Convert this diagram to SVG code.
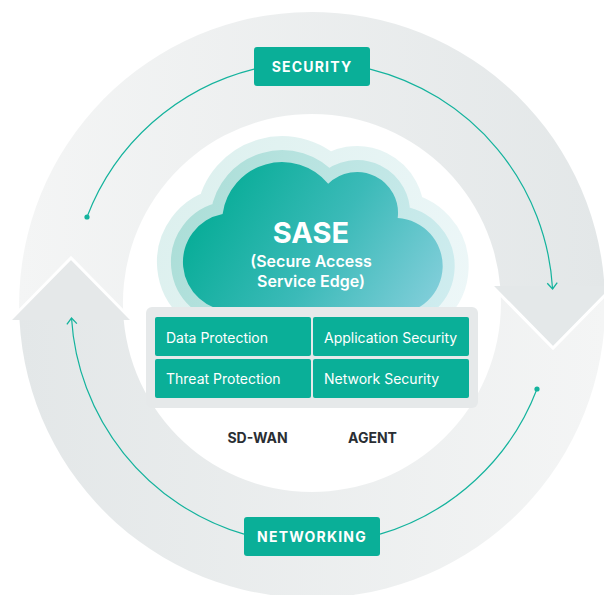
<svg xmlns="http://www.w3.org/2000/svg" width="604" height="595" viewBox="0 0 604 595">
<style>
.lbl{font-family:Inter,"Noto Sans","Liberation Sans",sans-serif;fill:#fff}
.tag{font-size:14px;font-weight:700;letter-spacing:1.2px;text-anchor:middle}
.cell{font-size:14px;font-weight:400}
.dark{font-family:Inter,"Noto Sans","Liberation Sans",sans-serif;font-size:14px;font-weight:700;fill:#2a2e33;text-anchor:middle}
.teal{fill:#0aaf98}
.conn{fill:none;stroke:#14b39d;stroke-width:1.2}
.head{fill:none;stroke:#fff;stroke-width:3;stroke-linejoin:miter}
</style>
<defs>
<linearGradient id="gTop" gradientUnits="userSpaceOnUse" x1="18" y1="0" x2="605" y2="0">
<stop offset="0" stop-color="#f4f5f5"/><stop offset="1" stop-color="#e3e7e8"/>
</linearGradient>
<linearGradient id="gBot" gradientUnits="userSpaceOnUse" x1="605" y1="0" x2="18" y2="0">
<stop offset="0" stop-color="#f4f5f5"/><stop offset="1" stop-color="#e3e7e8"/>
</linearGradient>
<linearGradient id="gCloud" gradientUnits="userSpaceOnUse" x1="215" y1="175" x2="440" y2="315">
<stop offset="0" stop-color="#05ac96"/><stop offset="0.5" stop-color="#3bbab8"/><stop offset="1" stop-color="#88d0dd"/>
</linearGradient>
<linearGradient id="gMid" gradientUnits="userSpaceOnUse" x1="170" y1="180" x2="460" y2="300">
<stop offset="0" stop-color="#a9ddd6"/><stop offset="1" stop-color="#d0edf0"/>
</linearGradient>
<linearGradient id="gOut" gradientUnits="userSpaceOnUse" x1="160" y1="180" x2="470" y2="300">
<stop offset="0" stop-color="#dcf0ee"/><stop offset="1" stop-color="#edf7f8"/>
</linearGradient>
<path id="cloud" d="M232 311 A49 49 0 0 1 222.6 213.9 A60 60 0 0 1 328.2 183.8 A41 41 0 0 1 397.7 218.1 A48 48 0 0 1 394 314 Z"/>
<marker id="chev" markerUnits="userSpaceOnUse" viewBox="0 0 10 12" refX="7" refY="6" markerWidth="10" markerHeight="12" orient="auto">
<path d="M1 1 L7 6 L1 11" fill="none" stroke="#14b39d" stroke-width="1.3"/>
</marker>
</defs>

<g id="cycle">
<path id="arrow-top" d="M19.5 320 A293 293 0 0 1 604.5 286 L500.2 286 A189 189 0 0 0 123.7 320 Z" fill="url(#gTop)"/>
<path id="arrow-bottom" d="M604.5 286 A293 293 0 1 1 19.5 320 L123.7 320 A189 189 0 1 0 500.2 286 Z" fill="url(#gBot)"/>
<polygon points="492,286 614,286 553,348" fill="#e4e8e9"/>
<polyline class="head" points="492,286 553,348 614,286"/>
<polygon points="10,320 132,320 71,258" fill="#e5e8e9"/>
<polyline class="head" points="10,320 71,258 132,320"/>
</g>

<g id="sase-cloud">
<use href="#cloud" fill="url(#gOut)" stroke="url(#gOut)" stroke-width="52" stroke-linejoin="round"/>
<use href="#cloud" fill="url(#gMid)" stroke="url(#gMid)" stroke-width="24" stroke-linejoin="round"/>
<use href="#cloud" fill="url(#gCloud)"/>
<text class="lbl" x="311" y="243" font-size="29" font-weight="700" text-anchor="middle">SASE</text>
<text class="lbl" x="311" y="267" font-size="16" font-weight="600" text-anchor="middle">(Secure Access</text>
<text class="lbl" x="311" y="287" font-size="16" font-weight="600" text-anchor="middle">Service Edge)</text>
</g>

<g id="panel">
<rect x="146" y="307" width="332" height="101" rx="6" fill="#e6e9ea"/>
</g>
<g id="data-protection">
<rect class="teal" x="155" y="317" width="156" height="39" rx="2"/>
<text class="lbl cell" x="166" y="343">Data Protection</text>
</g>
<g id="application-security">
<rect class="teal" x="313" y="317" width="156" height="39" rx="2"/>
<text class="lbl cell" x="324" y="343">Application Security</text>
</g>
<g id="threat-protection">
<rect class="teal" x="155" y="359" width="156" height="39" rx="2"/>
<text class="lbl cell" x="166" y="384">Threat Protection</text>
</g>
<g id="network-security">
<rect class="teal" x="313" y="359" width="156" height="39" rx="2"/>
<text class="lbl cell" x="324" y="384">Network Security</text>
</g>

<g id="sd-wan"><text class="dark" x="257.5" y="443">SD-WAN</text></g>
<g id="agent"><text class="dark" x="372.5" y="443">AGENT</text></g>

<g id="connectors">
<path class="conn" d="M370 69.1 A241 241 0 0 1 552.6 289" marker-end="url(#chev)"/>
<path class="conn" d="M254 69.1 A241 241 0 0 0 87 217"/>
<circle cx="87" cy="217" r="2.6" fill="#14b39d"/>
<path class="conn" d="M244 534.2 A241 241 0 0 1 71.5 318" marker-end="url(#chev)"/>
<path class="conn" d="M380 534.2 A241 241 0 0 0 537 389"/>
<circle cx="537" cy="389" r="2.6" fill="#14b39d"/>
</g>

<g id="security">
<rect class="teal" x="254" y="47" width="116" height="39" rx="3"/>
<text class="lbl tag" x="312" y="72">SECURITY</text>
</g>
<g id="networking">
<rect class="teal" x="244" y="517" width="136" height="39" rx="3"/>
<text class="lbl tag" x="312" y="542">NETWORKING</text>
</g>
</svg>
